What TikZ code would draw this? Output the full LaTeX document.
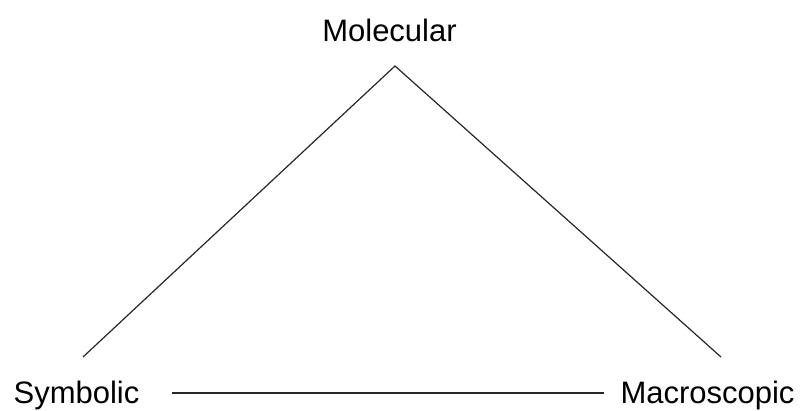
\documentclass[tikz,border=0pt]{standalone}
\usepackage{fontspec}
\setmainfont{Liberation Sans}
\usepackage{tikz}
\usetikzlibrary{positioning,calc}
\tikzset{
    level/.style={inner sep=0pt, anchor=base, font=\fontsize{31}{36}\selectfont},
    edge/.style={line width=1.2pt, black!85},
}
\begin{document}
\begin{tikzpicture}[x=1pt,y=-1pt]
    \useasboundingbox (0,0) rectangle (803,411);
    \node[level] (mol) at (389.5,41.5) {Molecular};
    \node[level] (sym) at (76.5,403) {Symbolic};
    \node[level] (mac) at (707.5,403) {Macroscopic};
    \coordinate (top) at (395,66);
    \coordinate (footL) at (83,357);
    \coordinate (footR) at (721,357);
    \draw[edge] (footL) -- (top) -- (footR);
    \draw[edge, shorten <=32pt, shorten >=16pt] (sym.east |- 0,393) -- (mac.west |- 0,393);
\end{tikzpicture}
\end{document}
